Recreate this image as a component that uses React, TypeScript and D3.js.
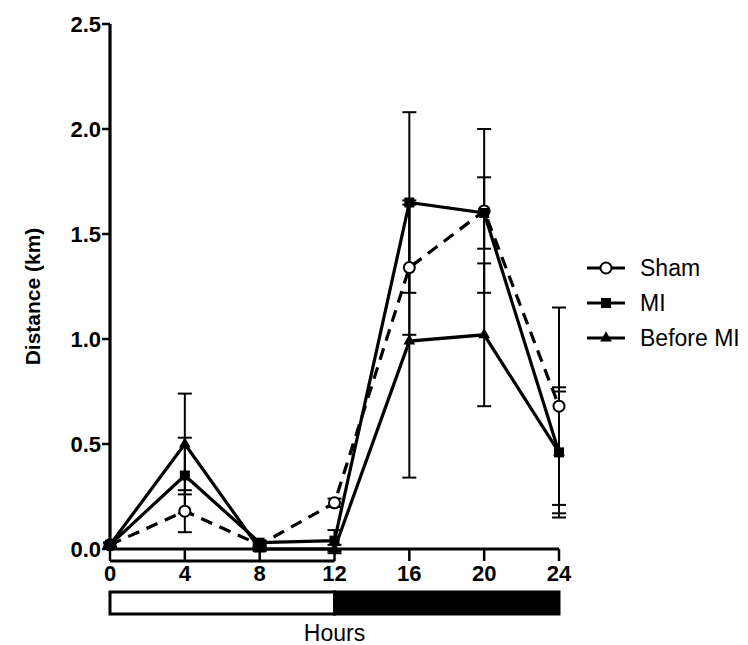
import React from 'react';
import * as d3 from 'd3';

const width = 748;
const height = 645;
const margin = { top: 24, right: 189, bottom: 96, left: 110 };

const hours = [0, 4, 8, 12, 16, 20, 24];
const shamMean = [0.02, 0.18, 0.02, 0.22, 1.34, 1.61, 0.68];
const shamErr = [0.01, 0.1, 0.01, 0.02, 0.32, 0.39, 0.47];
const miMean = [0.02, 0.35, 0.03, 0.04, 1.65, 1.6, 0.46];
const miErr = [0.01, 0.18, 0.01, 0.05, 0.43, 0.17, 0.29];
const beforeMean = [0.02, 0.5, 0.0, 0.0, 0.99, 1.02, 0.46];
const beforeErr = [0.01, 0.24, 0.01, 0.02, 0.65, 0.34, 0.31];
const yTicks = [0, 0.5, 1.0, 1.5, 2.0, 2.5];
const seriesNames = ['Sham', 'MI', 'Before MI'];

const xScale = d3.scaleLinear().domain([0, 24]).range([margin.left, width - margin.right]);
const yScale = d3.scaleLinear().domain([0, 2.5]).range([height - margin.bottom, margin.top]);

const series = [
  { name: seriesNames[0], mean: shamMean, err: shamErr, dash: '12,8', marker: 'circle' },
  { name: seriesNames[1], mean: miMean, err: miErr, dash: null, marker: 'square' },
  { name: seriesNames[2], mean: beforeMean, err: beforeErr, dash: null, marker: 'triangle' },
];

function Marker({ type, x, y }: { type: string; x: number; y: number }) {
  if (type === 'circle') return <circle cx={x} cy={y} r={5.5} fill="#fff" stroke="#000" strokeWidth={2} />;
  if (type === 'square') return <rect x={x - 5} y={y - 5} width={10} height={10} fill="#000" />;
  return <path d={d3.symbol(d3.symbolTriangle, 60)() || ''} transform={`translate(${x},${y})`} fill="#000" />;
}

export default function App() {
  const line = d3.line<number>().x((_, i) => xScale(hours[i])).y(d => yScale(d));
  const y0 = yScale(0);
  const font = 'Liberation Sans, Arial, sans-serif';
  return (
    <svg width={width} height={height} style={{ position: 'absolute', left: 0, top: 0 }}>
      <rect width={width} height={height} fill="#fff" />
      {/* error bars */}
      {series.map(s => (
        <g key={s.name + 'err'} stroke="#000" strokeWidth={2}>
          {s.mean.map((m, i) => {
            const x = xScale(hours[i]);
            const t = yScale(m + s.err[i]);
            const b = yScale(Math.max(m - s.err[i], -0.05));
            return (
              <g key={i}>
                <line x1={x} x2={x} y1={t} y2={b} />
                <line x1={x - 7} x2={x + 7} y1={t} y2={t} />
                <line x1={x - 7} x2={x + 7} y1={b} y2={b} />
              </g>
            );
          })}
        </g>
      ))}
      {/* lines */}
      {series.map(s => (
        <path key={s.name} d={line(s.mean) || ''} fill="none" stroke="#000" strokeWidth={3.2}
          strokeDasharray={s.dash || undefined} />
      ))}
      {series.map(s => s.mean.map((m, i) => (
        <Marker key={s.name + i} type={s.marker} x={xScale(hours[i])} y={yScale(m)} />
      )))}
      {/* y axis */}
      <line x1={margin.left} x2={margin.left} y1={margin.top} y2={y0} stroke="#000" strokeWidth={3.2} />
      {yTicks.map(t => (
        <g key={t}>
          <line x1={margin.left - 8} x2={margin.left} y1={yScale(t)} y2={yScale(t)} stroke="#000" strokeWidth={2.5} />
          <text x={margin.left - 9} y={yScale(t)} dy="0.35em" textAnchor="end" fontFamily={font}
            fontWeight="bold" fontSize={22}>{d3.format('.1f')(t)}</text>
        </g>
      ))}
      {/* x axis */}
      <line x1={margin.left} x2={xScale(24)} y1={y0} y2={y0} stroke="#000" strokeWidth={3.2} />
      <line x1={xScale(0)} x2={xScale(12)} y1={y0 + 12} y2={y0 + 12} stroke="#000" strokeWidth={3} />
      {hours.map(h => (
        <g key={h}>
          <line x1={xScale(h)} x2={xScale(h)} y1={y0} y2={y0 + 12} stroke="#000" strokeWidth={2.5} />
          <text x={xScale(h)} y={y0 + 32} textAnchor="middle" fontFamily={font} fontWeight="bold"
            fontSize={22}>{h}</text>
        </g>
      ))}
      {/* light / dark bar */}
      <rect x={xScale(0)} y={y0 + 43} width={xScale(12) - xScale(0)} height={22} fill="#fff" stroke="#000" strokeWidth={3} />
      <rect x={xScale(12)} y={y0 + 43} width={xScale(24) - xScale(12)} height={22} fill="#000" stroke="#000" strokeWidth={3} />
      <text x={xScale(12)} y={y0 + 92} textAnchor="middle" fontFamily={font} fontSize={23}>Hours</text>
      <text transform={`translate(40,${(margin.top + y0) / 2 + 10}) rotate(-90)`} textAnchor="middle"
        fontFamily={font} fontWeight="bold" fontSize={21}>Distance (km)</text>
      {/* legend */}
      {series.map((s, i) => {
        const ly = 268 + i * 35;
        return (
          <g key={s.name + 'leg'}>
            <line x1={587} x2={625} y1={ly} y2={ly} stroke="#000" strokeWidth={3} />
            <Marker type={s.marker} x={606} y={ly} />
            <text x={640} y={ly} dy="0.35em" fontFamily={font} fontSize={23}>{s.name}</text>
          </g>
        );
      })}
    </svg>
  );
}
